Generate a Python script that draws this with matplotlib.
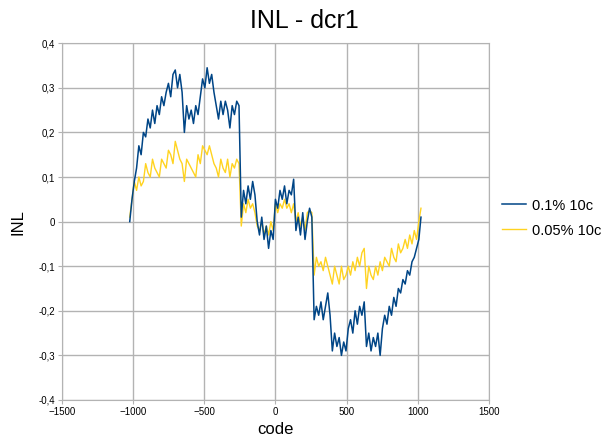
import numpy as np
import matplotlib.pyplot as plt
from matplotlib.ticker import FuncFormatter

plt.rcParams['font.family'] = ['Liberation Sans', 'DejaVu Sans']

# codes sampled every 16 steps, plus the last code
codes = list(range(-1024, 1024, 16)) + [1023]

inl_01 = [
    0.00, 0.05, 0.09, 0.12, 0.17, 0.15, 0.20, 0.19,
    0.23, 0.21, 0.25, 0.22, 0.26, 0.24, 0.28, 0.26,
    0.29, 0.31, 0.28, 0.33, 0.34, 0.30, 0.33, 0.29,
    0.20, 0.26, 0.23, 0.25, 0.22, 0.26, 0.24, 0.28,
    0.32, 0.30, 0.345, 0.31, 0.33, 0.29, 0.26, 0.23,
    0.27, 0.24, 0.27, 0.25, 0.21, 0.26, 0.24, 0.27,
    0.26, 0.01, 0.07, 0.04, 0.08, 0.05, 0.09, 0.06,
    0.00, -0.03, 0.01, -0.04, -0.01, -0.06, -0.02, -0.04,
    0.05, 0.03, 0.07, 0.05, 0.08, 0.04, 0.07, 0.06,
    0.095, -0.02, 0.01, -0.03, 0.02, -0.04, 0.00, 0.03,
    0.01, -0.22, -0.19, -0.21, -0.18, -0.22, -0.19, -0.16,
    -0.21, -0.29, -0.25, -0.28, -0.26, -0.30, -0.27, -0.29,
    -0.24, -0.22, -0.25, -0.20, -0.23, -0.19, -0.21, -0.18,
    -0.28, -0.25, -0.29, -0.26, -0.28, -0.25, -0.30, -0.24,
    -0.21, -0.23, -0.19, -0.21, -0.17, -0.19, -0.15, -0.16,
    -0.13, -0.14, -0.11, -0.12, -0.09, -0.08, -0.06, -0.04,
    0.01,
]

inl_005 = [
    0.01, 0.05, 0.09, 0.07, 0.10, 0.08, 0.09, 0.13,
    0.11, 0.10, 0.14, 0.12, 0.11, 0.10, 0.14, 0.13,
    0.12, 0.16, 0.15, 0.13, 0.18, 0.16, 0.14, 0.13,
    0.09, 0.14, 0.13, 0.12, 0.11, 0.10, 0.15, 0.13,
    0.17, 0.16, 0.15, 0.17, 0.15, 0.13, 0.12, 0.10,
    0.14, 0.12, 0.11, 0.14, 0.10, 0.13, 0.12, 0.14,
    0.13, -0.01, 0.04, 0.02, 0.05, 0.03, 0.04, 0.02,
    -0.01, -0.02, 0.00, -0.03, -0.01, -0.03, 0.00, -0.02,
    0.04, 0.02, 0.04, 0.03, 0.05, 0.03, 0.04, 0.02,
    0.04, 0.00, 0.02, -0.01, 0.01, -0.02, 0.02, 0.025,
    0.02, -0.12, -0.08, -0.10, -0.09, -0.11, -0.08, -0.10,
    -0.12, -0.14, -0.10, -0.12, -0.14, -0.10, -0.13, -0.12,
    -0.10, -0.12, -0.09, -0.11, -0.08, -0.10, -0.07, -0.06,
    -0.15, -0.10, -0.12, -0.13, -0.10, -0.12, -0.09, -0.11,
    -0.08, -0.09, -0.10, -0.06, -0.08, -0.09, -0.05, -0.07,
    -0.06, -0.04, -0.06, -0.03, -0.05, -0.02, -0.04, 0.00,
    0.03,
]

x_ticks = [-1500, -1000, -500, 0, 500, 1000, 1500]
y_ticks = [-0.4, -0.3, -0.2, -0.1, 0, 0.1, 0.2, 0.3, 0.4]

fig = plt.figure(figsize=(6.08, 4.41), dpi=100)
ax = fig.add_axes([0.102, 0.093, 0.702, 0.809])

ax.plot(codes, inl_01, color='#004586', linewidth=1.1, label='0.1% 10c', zorder=3)
ax.plot(codes, inl_005, color='#ffd320', linewidth=1.0, label='0.05% 10c', zorder=2)

ax.set_xlim(-1500, 1500)
ax.set_ylim(-0.4, 0.4)
ax.set_xticks(x_ticks)
ax.set_yticks(y_ticks)


def comma(v, pos):
    if abs(v) < 1e-9:
        return '0'
    return f'{v:g}'.replace('.', ',')


ax.yaxis.set_major_formatter(FuncFormatter(comma))
ax.tick_params(labelsize=7, length=3, color='#b3b3b3', pad=2)
ax.grid(True, color='#b3b3b3', linewidth=1.0)
ax.set_axisbelow(True)
for s in ax.spines.values():
    s.set_color('#b3b3b3')

fig.text(0.5, 0.952, 'INL - dcr1', fontsize=18, ha='center', va='center')
ax.set_xlabel('code', fontsize=12, labelpad=4)
ax.set_ylabel('INL', fontsize=12, labelpad=9)

ax.legend(loc='center left', bbox_to_anchor=(1.025, 0.51), frameon=False,
          fontsize=10.5, handlelength=1.6, handletextpad=0.4, labelspacing=0.75,
          borderaxespad=0, borderpad=0.2)

fig.savefig('out.png', dpi=100)
